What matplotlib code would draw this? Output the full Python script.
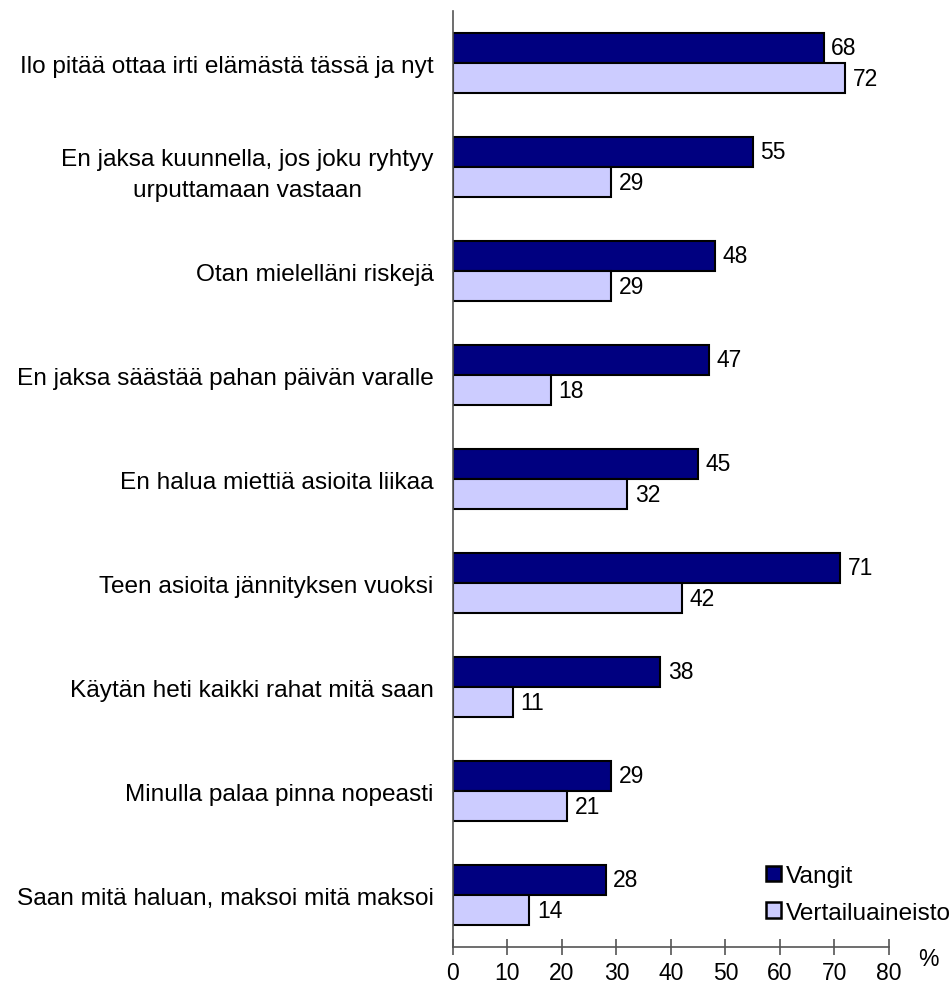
import numpy as np
import matplotlib.pyplot as plt
from matplotlib.patches import Patch

plt.rcParams['font.family'] = ['Liberation Sans', 'DejaVu Sans']

categories = [
    "Ilo pitää ottaa irti elämästä tässä ja nyt",
    "En jaksa kuunnella, jos joku ryhtyy\nurputtamaan vastaan",
    "Otan mielelläni riskejä",
    "En jaksa säästää pahan päivän varalle",
    "En halua miettiä asioita liikaa",
    "Teen asioita jännityksen vuoksi",
    "Käytän heti kaikki rahat mitä saan",
    "Minulla palaa pinna nopeasti",
    "Saan mitä haluan, maksoi mitä maksoi",
]
vangit = [68, 55, 48, 47, 45, 71, 38, 29, 28]
vertailu = [72, 29, 29, 18, 32, 42, 11, 21, 14]
series_names = ["Vangit", "Vertailuaineisto"]
colors = ["#000080", "#CCCCFF"]
xticks = [0, 10, 20, 30, 40, 50, 60, 70, 80]

fig = plt.figure(figsize=(9.52, 9.87), dpi=100)
ax = fig.add_axes([0.4758, 0.0395, 0.458, 0.9483])

y = np.arange(len(categories))
h = 0.29
for vals, off, col in [(vangit, -h / 2, colors[0]), (vertailu, h / 2, colors[1])]:
    ax.barh(y + off, vals, height=h, color=col, edgecolor='black', linewidth=1.5)
    for yi, v in zip(y, vals):
        ax.text(v + 1.4, yi + off, str(v), va='center', ha='left', fontsize=16.5)

ax.set_ylim(len(categories) - 0.5, -0.5)
ax.set_xlim(0, 80)
ax.set_yticks(y)
ax.set_yticklabels(categories, fontsize=17.6, multialignment='center', linespacing=1.55)
ax.tick_params(axis='y', length=0, pad=14)
ax.set_xticks(xticks)
ax.tick_params(axis='x', direction='inout', length=12, width=1.2, color='#555555',
               labelsize=16.5, pad=4)

for s in ['top', 'right']:
    ax.spines[s].set_visible(False)
ax.spines['left'].set_color('#555555')
ax.spines['bottom'].set_color('#555555')
ax.spines['left'].set_linewidth(1.2)
ax.spines['bottom'].set_linewidth(1.2)

fig.text(928 / 952, 1 - 960 / 987, "%", ha='center', va='center', fontsize=16.5)

handles = [Patch(facecolor=c, edgecolor='black', linewidth=1.8) for c in colors]
ax.legend(handles, series_names, loc='upper left', bbox_to_anchor=(0.695, 0.098),
          frameon=False, fontsize=17.6, handlelength=0.62, handleheight=0.62,
          handletextpad=0.22, labelspacing=0.6, borderaxespad=0)

fig.savefig("out.png", dpi=100)
